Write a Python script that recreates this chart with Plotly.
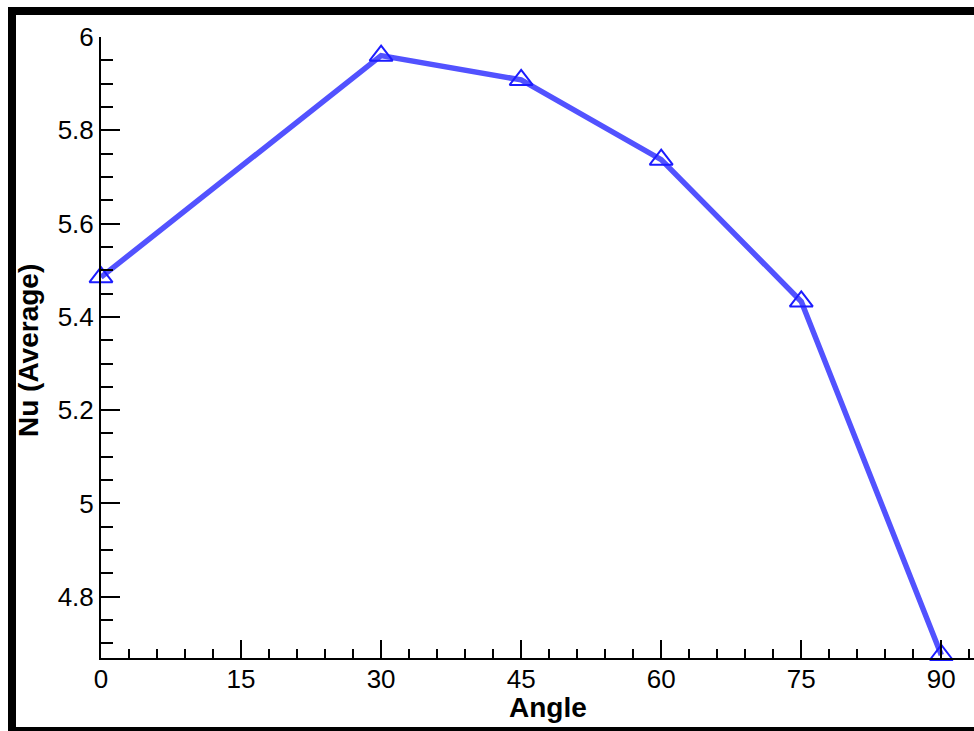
import plotly.graph_objects as go

angle = [0, 30, 45, 60, 75, 90]
nu_avg = [5.485, 5.96, 5.908, 5.737, 5.433, 4.675]
x_ticks = [0, 15, 30, 45, 60, 75, 90]
y_ticks = [4.8, 5.0, 5.2, 5.4, 5.6, 5.8, 6.0]
y_tick_text = ["4.8", "5", "5.2", "5.4", "5.6", "5.8", "6"]

W, H = 974, 731
ML, MR, MT, MB = 101, 0, 37, 73
PW, PH = W - ML - MR, H - MT - MB

def px_x(p):
    return (p - ML) / PW

def px_y(p):
    return (H - MB - p) / PH

fig = go.Figure()
fig.add_trace(go.Scatter(
    x=angle, y=nu_avg, mode="lines+markers",
    line=dict(color="#5252ff", width=5.5),
    marker=dict(symbol="triangle-up-open", size=20, color="#1c1cff",
                line=dict(width=2, color="#1c1cff")),
    cliponaxis=False, showlegend=False,
))

font_family = "Arial, Liberation Sans, sans-serif"
fig.update_layout(
    width=W, height=H,
    margin=dict(l=ML, r=MR, t=MT, b=MB),
    paper_bgcolor="white", plot_bgcolor="white",
    font=dict(family=font_family, color="black"),
    xaxis=dict(
        range=[0, 93.5], tickvals=x_ticks, ticks="inside", ticklen=18, tickwidth=2,
        tickcolor="black", showline=True, linecolor="black", linewidth=2,
        showgrid=False, zeroline=False, tickfont=dict(size=26),
        ticklabelstandoff=-3,
        minor=dict(dtick=3, tick0=0, ticks="inside", ticklen=9, tickwidth=1.5,
                   tickcolor="black", showgrid=False),
    ),
    yaxis=dict(
        range=[4.6686, 6.0], tickvals=y_ticks, ticktext=y_tick_text,
        ticks="inside", ticklen=19, tickwidth=2,
        tickcolor="black", showline=True, linecolor="black", linewidth=2,
        showgrid=False, zeroline=False, tickfont=dict(size=26),
        ticklabelstandoff=0,
        minor=dict(dtick=0.05, tick0=4.8, ticks="inside", ticklen=12, tickwidth=1.5,
                   tickcolor="black", showgrid=False),
    ),
    annotations=[
        dict(text="<b>Angle</b>", xref="paper", yref="paper",
             x=px_x(547.5), y=px_y(725), xanchor="center", yanchor="bottom",
             showarrow=False, font=dict(size=28)),
        dict(text="<b>Nu (Average)</b>", xref="paper", yref="paper",
             x=px_x(28), y=px_y(351), xanchor="center", yanchor="middle",
             textangle=-90, showarrow=False, font=dict(size=28)),
    ],
    shapes=[dict(
        type="rect", xref="paper", yref="paper",
        x0=px_x(12), x1=px_x(990), y0=px_y(731), y1=px_y(11),
        line=dict(color="black", width=8), fillcolor="rgba(0,0,0,0)", layer="above",
    )],
)

fig.write_html("out.html")
